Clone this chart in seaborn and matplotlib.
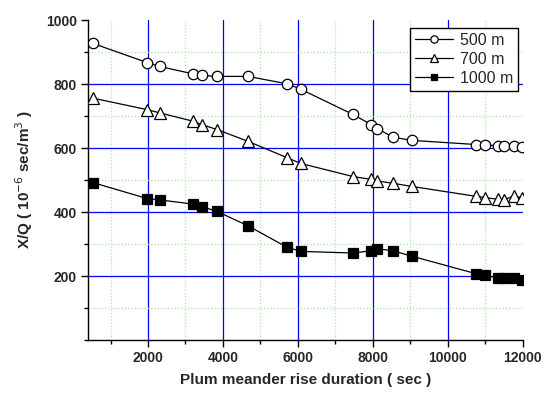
import matplotlib
matplotlib.use("Agg")
import matplotlib.pyplot as plt
import seaborn as sns
import pandas as pd
from matplotlib.ticker import MultipleLocator

duration = [533, 1984, 2312, 3200, 3440, 3840, 4667, 5707, 6072, 7467,
            7957, 8117, 8533, 9040, 10757, 10997, 11333, 11485, 11752, 11973]
xq_500 = [927, 867, 855, 832, 827, 824, 824, 801, 784, 705,
          673, 661, 634, 624, 611, 611, 606, 606, 606, 602]
xq_700 = [756, 720, 710, 684, 673, 658, 621, 570, 552, 511,
          502, 497, 490, 480, 449, 445, 440, 438, 450, 445]
xq_1000 = [492, 442, 438, 425, 417, 402, 357, 290, 277, 272,
           279, 285, 279, 262, 207, 202, 194, 193, 195, 188]
labels = ["500 m", "700 m", "1000 m"]

sns.set_theme(style="white")
plt.rcParams['font.family'] = ['Liberation Sans', 'DejaVu Sans']

fig = plt.figure(figsize=(5.45, 3.94), dpi=100)
ax = fig.add_axes([0.1615, 0.137, 0.798, 0.812])

styles = [
    dict(marker='o', markerfacecolor='white', markersize=7.5),
    dict(marker='^', markerfacecolor='white', markersize=8),
    dict(marker='s', markerfacecolor='black', markersize=6.5),
]
for vals, lab, st in zip([xq_500, xq_700, xq_1000], labels, styles):
    df = pd.DataFrame({"x": duration, "y": vals})
    sns.lineplot(data=df, x="x", y="y", ax=ax, color='black', linewidth=0.9,
                 markeredgecolor='black', markeredgewidth=0.9, label=lab,
                 zorder=3, **st)

ax.set_xlim(400, 12000)
ax.set_ylim(0, 1000)
ax.xaxis.set_major_locator(MultipleLocator(2000))
ax.xaxis.set_minor_locator(MultipleLocator(1000))
ax.yaxis.set_major_locator(MultipleLocator(200))
ax.yaxis.set_minor_locator(MultipleLocator(100))
ax.set_xticks([2000, 4000, 6000, 8000, 10000, 12000])
ax.set_yticks([200, 400, 600, 800, 1000])

ax.grid(which='major', color='#0000ff', linestyle='-', linewidth=0.9)
ax.grid(which='minor', color='#a0f0a0', linestyle=':', linewidth=0.9)
ax.set_axisbelow(True)

for s in ['top', 'right']:
    ax.spines[s].set_visible(False)
for s in ['left', 'bottom']:
    ax.spines[s].set_color('black')
    ax.spines[s].set_linewidth(1.0)

ax.tick_params(which='major', direction='out', length=5, width=1, color='black',
               bottom=True, left=True, labelsize=10, pad=3)
ax.tick_params(which='minor', direction='out', length=3, width=1, color='black',
               bottom=True, left=True)
for t in ax.get_xticklabels() + ax.get_yticklabels():
    t.set_fontweight('bold')

ax.set_xlabel("Plum meander rise duration ( sec )", fontsize=11, fontweight='bold', labelpad=6)
ax.set_ylabel("X/Q ( 10$^{-6}$ sec/m$^{3}$ )", fontsize=11, fontweight='bold', labelpad=8)

leg = ax.legend(loc='upper right', bbox_to_anchor=(0.995, 0.985), fontsize=11.5,
                frameon=True, fancybox=False, edgecolor='black', framealpha=1,
                markerscale=0.7, handlelength=2.4, borderpad=0.3, labelspacing=0.25,
                handletextpad=0.4, borderaxespad=0.2)
leg.get_frame().set_linewidth(1.0)

fig.canvas.draw()
# hide grid lines lying on the plot edges (at 12000 and 1000)
for tick in ax.xaxis.get_major_ticks():
    if abs(tick.get_loc() - 12000) < 1:
        tick.gridline.set_visible(False)
for tick in ax.yaxis.get_major_ticks():
    if abs(tick.get_loc() - 1000) < 1:
        tick.gridline.set_visible(False)

fig.savefig("out.png", dpi=100)
